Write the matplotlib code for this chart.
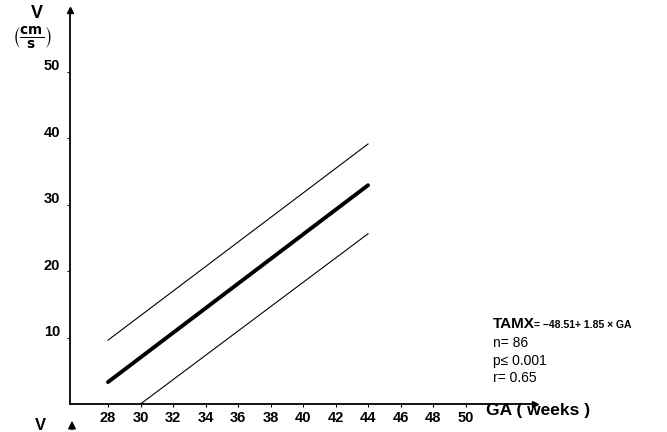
import numpy as np
import matplotlib
matplotlib.use('Agg')
import matplotlib.pyplot as plt
from matplotlib.transforms import ScaledTranslation

plt.rcParams['font.family'] = ['Liberation Sans', 'DejaVu Sans']

# gestational age (weeks) and velocity (cm/s) for regression line and limits
ga_mean = [28, 44]
v_mean = [3.3, 32.9]
ga_upper = [28, 44]
v_upper = [9.6, 39.1]
ga_lower = [30, 44]
v_lower = [0.0, 25.6]

xticks = [28, 30, 32, 34, 36, 38, 40, 42, 44, 46, 48, 50]
yticks = [10, 20, 30, 40, 50]
stats = ['n= 86', 'p\u2264 0.001', 'r= 0.65']

W, H = 667, 432
fig = plt.figure(figsize=(W / 100, H / 100), dpi=100)

# axes box: left spine at x=70px, bottom at y=404px, up to the arrow heads
x0, x1, ytop, ybot = 70, 535, 10, 404
ax = fig.add_axes([x0 / W, 1 - ybot / H, (x1 - x0) / W, (ybot - ytop) / H])
ax.set_xlim(25.66, 25.66 + (x1 - x0) / 16.25)
ax.set_ylim(0, (ybot - ytop) / 6.65)

ax.plot(ga_mean, v_mean, color='black', lw=2.8, solid_capstyle='round')
ax.plot(ga_upper, v_upper, color='black', lw=0.8)
ax.plot(ga_lower, v_lower, color='black', lw=0.8)

for s in ['top', 'right']:
    ax.spines[s].set_visible(False)
ax.spines['left'].set_linewidth(1.3)
ax.spines['bottom'].set_linewidth(1.3)

# arrow heads on both axes
ax.plot(1, 0, '>', color='black', ms=5, transform=ax.transAxes, clip_on=False)
ax.plot(0, 1, '^', color='black', ms=5, transform=ax.transAxes, clip_on=False)

ax.set_xticks(xticks)
ax.set_yticks(yticks)
ax.tick_params(axis='both', length=2, width=0.8, labelsize=10.5)
ax.tick_params(axis='x', pad=3)
ax.tick_params(axis='y', pad=5)
for lab in ax.get_xticklabels() + ax.get_yticklabels():
    lab.set_fontweight('bold')
for lab in ax.get_yticklabels():
    lab.set_transform(lab.get_transform() + ScaledTranslation(0, 5 / 72, fig.dpi_scale_trans))


def px(x, y):
    return x / W, 1 - y / H


fig.text(*px(37, 13), 'V', fontsize=13, fontweight='bold', ha='center', va='center')
fig.text(*px(32, 37), r'$\left(\frac{\mathbf{cm}}{\mathbf{s}}\right)$', fontsize=14,
         ha='center', va='center')

fig.text(*px(538, 411), 'GA ( weeks )', fontsize=12.5, fontweight='bold', ha='center', va='center')

fig.text(*px(493, 324), 'TAMX', fontsize=11, fontweight='bold', va='center')
fig.text(*px(534, 325), '= \u221248.51+ 1.85 \u00d7 GA', fontsize=7.5, fontweight='bold', va='center')
for i, s in enumerate(stats):
    fig.text(*px(493, 343 + i * 17.5), s, fontsize=10, va='center')

# stray marks at the bottom edge
fig.text(*px(40, 426), 'V', fontsize=12, fontweight='bold', ha='center', va='center')
fig.add_artist(matplotlib.patches.FancyArrowPatch(px(72, 432), px(72, 418), transform=fig.transFigure,
                                                  arrowstyle='-|>', mutation_scale=11, lw=1.2, color='black'))

fig.savefig('out.png', dpi=100)
